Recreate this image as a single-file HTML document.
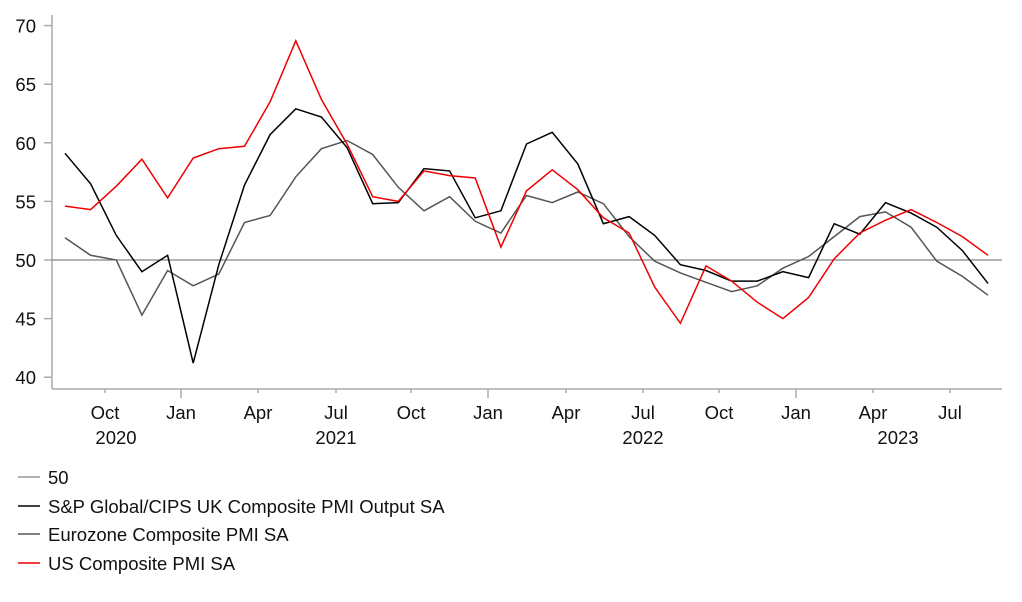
<!DOCTYPE html>
<html><head><meta charset="utf-8"><style>
body{margin:0;background:#fff;}
svg text{font-family:"Liberation Sans",Arial,sans-serif;font-size:18.5px;fill:#111;}
</style></head><body>
<svg id="s" width="1022" height="597" xmlns="http://www.w3.org/2000/svg">
<g stroke="#aaa" stroke-width="1.5" fill="none">
<line x1="52" y1="15" x2="52" y2="389"/>
<line x1="52" y1="389" x2="1002" y2="389"/>
</g>
<line x1="52" y1="260" x2="1002" y2="260" stroke="#666" stroke-width="1"/>
<g id="yt"></g><g id="xt"></g>
<polyline id="eu" fill="none" stroke="#555" stroke-width="1.5"/>
<polyline id="uk" fill="none" stroke="#000" stroke-width="1.5"/>
<polyline id="us" fill="none" stroke="#e00" stroke-width="1.5"/>
<g text-anchor="middle">
<text x="105" y="419">Oct</text><text x="181" y="419">Jan</text><text x="258" y="419">Apr</text><text x="336" y="419">Jul</text>
<text x="411" y="419">Oct</text><text x="488" y="419">Jan</text><text x="566" y="419">Apr</text><text x="643" y="419">Jul</text>
<text x="719" y="419">Oct</text><text x="796" y="419">Jan</text><text x="873" y="419">Apr</text><text x="950" y="419">Jul</text>
<text x="116" y="444">2020</text><text x="336" y="444">2021</text><text x="643" y="444">2022</text><text x="898" y="444">2023</text>
</g>
<line x1="18" y1="477" x2="40" y2="477" stroke="#999" stroke-width="1.5"/><text x="48" y="484">50</text>
<line x1="18" y1="506" x2="40" y2="506" stroke="#000" stroke-width="1.5"/><text x="48" y="513">S&amp;P Global/CIPS UK Composite PMI Output SA</text>
<line x1="18" y1="534" x2="40" y2="534" stroke="#555" stroke-width="1.5"/><text x="48" y="541">Eurozone Composite PMI SA</text>
<line x1="18" y1="563" x2="40" y2="563" stroke="#e00" stroke-width="1.5"/><text x="48" y="570">US Composite PMI SA</text>
</svg>
<script>
var NS="http://www.w3.org/2000/svg";
function Y(v){return 260-(v-50)*11.72;}
function X(i){return 65+i*25.64;}
var us=[54.6,54.3,56.3,58.6,55.3,58.7,59.5,59.7,63.5,68.7,63.7,59.9,55.4,55.0,57.6,57.2,57.0,51.1,55.9,57.7,56.0,53.6,52.3,47.7,44.6,49.5,48.2,46.4,45.0,46.8,50.1,52.3,53.4,54.3,53.2,52.0,50.4];
var uk=[59.1,56.5,52.1,49.0,50.4,41.2,49.6,56.4,60.7,62.9,62.2,59.6,54.8,54.9,57.8,57.6,53.6,54.2,59.9,60.9,58.2,53.1,53.7,52.1,49.6,49.1,48.2,48.2,49.0,48.5,53.1,52.2,54.9,54.0,52.8,50.8,48.0];
var eu=[51.9,50.4,50.0,45.3,49.1,47.8,48.8,53.2,53.8,57.1,59.5,60.2,59.0,56.2,54.2,55.4,53.3,52.3,55.5,54.9,55.8,54.8,52.0,49.9,48.9,48.1,47.3,47.8,49.3,50.3,52.0,53.7,54.1,52.8,49.9,48.6,47.0];
function pts(a){return a.map(function(v,i){return X(i).toFixed(1)+","+Y(v).toFixed(1)}).join(" ");}
document.getElementById("us").setAttribute("points",pts(us));
document.getElementById("uk").setAttribute("points",pts(uk));
document.getElementById("eu").setAttribute("points",pts(eu));
var yt=document.getElementById("yt");
for(var v=40;v<=70;v+=5){var l=document.createElementNS(NS,"line");l.setAttribute("x1",44);l.setAttribute("x2",52);l.setAttribute("y1",Y(v));l.setAttribute("y2",Y(v));l.setAttribute("stroke","#aaa");l.setAttribute("stroke-width","1.5");yt.appendChild(l);
var t=document.createElementNS(NS,"text");t.setAttribute("x",36);t.setAttribute("y",Y(v)+7);t.setAttribute("text-anchor","end");t.textContent=v;yt.appendChild(t);}
var xs=[105,181,258,336,411,488,566,643,719,796,873,950];
xs.forEach(function(x,i){var l=document.createElementNS(NS,"line");l.setAttribute("x1",x);l.setAttribute("x2",x);l.setAttribute("y1",389);l.setAttribute("y2",(i%4==1)?398:393);l.setAttribute("stroke","#aaa");l.setAttribute("stroke-width","1.5");document.getElementById("xt").appendChild(l);});
</script>
</body></html>
